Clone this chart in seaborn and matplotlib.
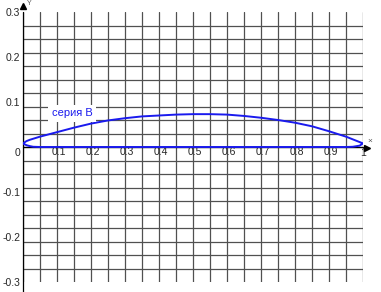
import numpy as np
import pandas as pd
import matplotlib
matplotlib.use("Agg")
import matplotlib.pyplot as plt
import seaborn as sns

# --- data ---
upper_x = [0.0, 0.01, 0.02, 0.05, 0.10, 0.15, 0.20, 0.25, 0.30, 0.35, 0.40, 0.45,
           0.50, 0.55, 0.60, 0.65, 0.70, 0.75, 0.80, 0.85, 0.90, 0.95, 0.98, 1.0]
upper_y = [0.008, 0.013, 0.016, 0.023, 0.033, 0.043, 0.052, 0.059, 0.064, 0.068, 0.070, 0.072,
           0.073, 0.073, 0.072, 0.069, 0.065, 0.060, 0.054, 0.046, 0.035, 0.023, 0.014, 0.008]
lower_x = [1.0, 0.99, 0.97, 0.95, 0.50, 0.05, 0.03, 0.02, 0.01, 0.0]
lower_y = [0.008, 0.003, 0.0005, 0.0, 0.0, 0.0, 0.0005, 0.002, 0.004, 0.008]
series_name = "серия B"
x_tick_vals = [0.1, 0.2, 0.3, 0.4, 0.5, 0.6, 0.7, 0.8, 0.9]
x_tick_labels = ["0.1", "0.2", "0.3", "0.4", "0.5", "0.6", "0.7", "0.8", "0.9"]
y_tick_vals = [0.3, 0.2, 0.1, -0.1, -0.2, -0.3]
y_tick_labels = ["0.3", "0.2", "0.1", "-0.1", "-0.2", "-0.3"]

df = pd.DataFrame({"x": upper_x + lower_x, "y": upper_y + lower_y,
                   "order": range(len(upper_x) + len(lower_x))})

sns.set_style("white")
plt.rcParams['font.family'] = ['Liberation Sans', 'DejaVu Sans']

fig = plt.figure(figsize=(3.81, 2.92), dpi=100)
ax = fig.add_axes([23/381, 1-282/292, 340/381, 270/292])
ax.set_xlim(0, 1)
ax.set_ylim(-0.3, 0.3)

# grid
ax.set_xticks(np.arange(0, 1.0001, 0.05), minor=True)
ax.set_yticks(np.arange(-0.3, 0.30001, 0.03), minor=True)
ax.grid(which="minor", color="#505050", linewidth=0.9)
ax.grid(which="major", visible=False)
ax.set_xticks([])
ax.set_yticks(y_tick_vals)
ax.set_yticklabels(y_tick_labels, fontsize=7.5)
ax.tick_params(axis="y", which="both", length=0, pad=2)
ax.tick_params(axis="x", which="both", length=0)
for s in ax.spines.values():
    s.set_visible(False)

# axes lines with arrows
ax.plot([0, 0], [-0.335, 0.3], color="black", linewidth=0.9, clip_on=False, zorder=3)
ax.plot([0, 1.0], [0, 0], color="black", linewidth=0.9, clip_on=False, zorder=3)
ax.plot([0], [0.313], marker="^", color="black", markersize=4, clip_on=False, zorder=4)
ax.plot([1.013], [-0.003], marker=">", color="black", markersize=4, clip_on=False, zorder=4)
ax.text(0.012, 0.318, "Y", fontsize=5, color="#555555", ha="left", va="center")
ax.text(1.02, 0.013, "×", fontsize=6, color="#555555", ha="center", va="center", clip_on=False)

# tick labels on the x axis
for v, lab in zip(x_tick_vals, x_tick_labels):
    ax.text(v + 0.006, -0.011, lab, fontsize=7.5, ha="center", va="center")
ax.text(-0.008, -0.013, "0", fontsize=7.5, ha="right", va="center")
ax.text(1.0, -0.013, "1", fontsize=7.5, ha="center", va="center")

# series
sns.lineplot(data=df, x="x", y="y", sort=False, estimator=None, color="#1a1aee",
             linewidth=1.4, ax=ax, zorder=5)
ax.set_xlabel("")
ax.set_ylabel("")

ax.text(0.145, 0.0745, series_name, fontsize=8, color="#1a1aee", ha="center", va="center",
        bbox=dict(facecolor="white", edgecolor="none", pad=2.5), zorder=6)

fig.savefig("out.png", dpi=100)
